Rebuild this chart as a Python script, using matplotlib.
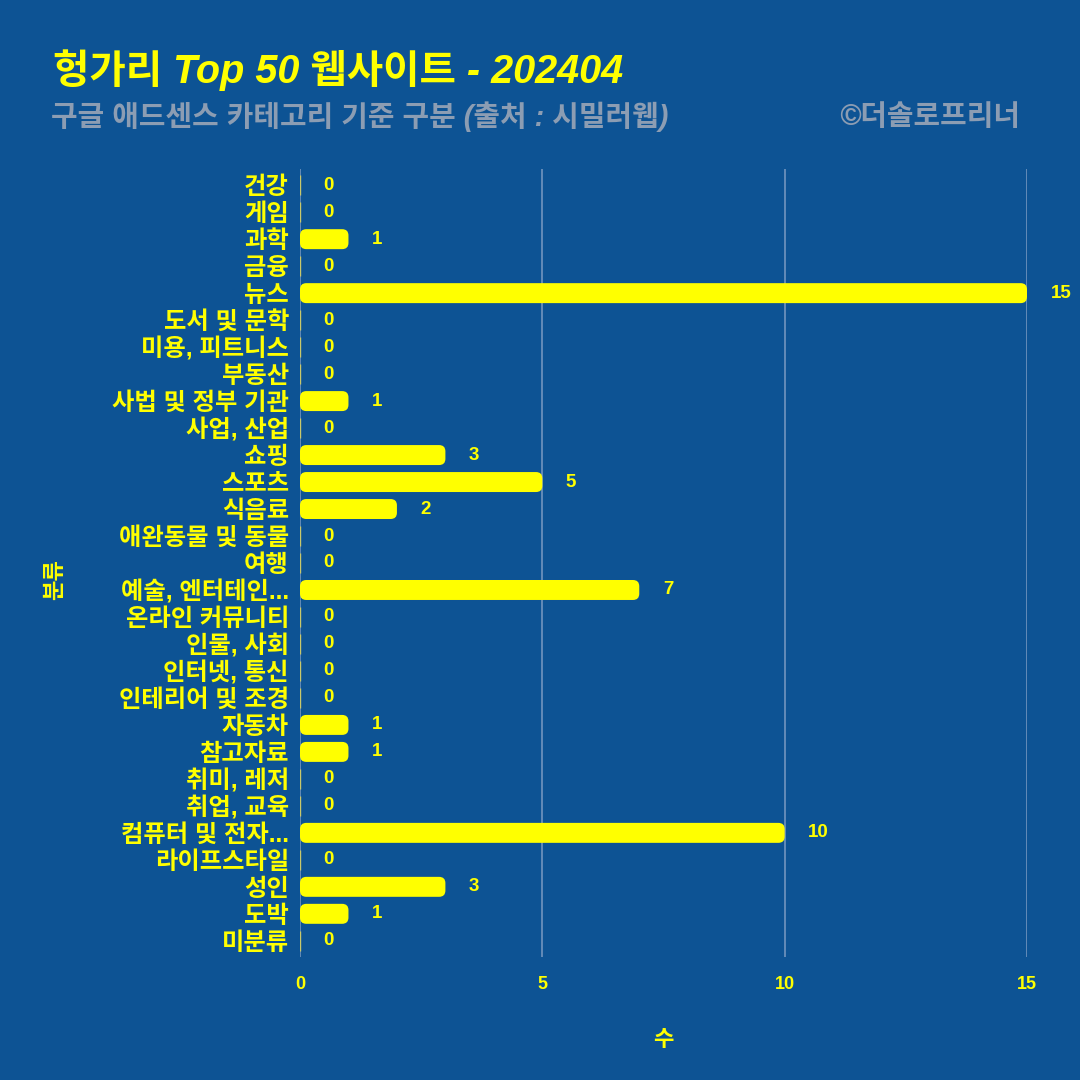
import matplotlib.pyplot as plt
from matplotlib.patches import FancyBboxPatch

plt.rcParams['font.family'] = ['Liberation Sans', 'Noto Sans CJK KR', 'DejaVu Sans']

categories = ['건강', '게임', '과학', '금융', '뉴스', '도서 및 문학', '미용, 피트니스', '부동산',
              '사법 및 정부 기관', '사업, 산업', '쇼핑', '스포츠', '식음료', '애완동물 및 동물',
              '여행', '예술, 엔터테인...', '온라인 커뮤니티', '인물, 사회', '인터넷, 통신',
              '인테리어 및 조경', '자동차', '참고자료', '취미, 레저', '취업, 교육',
              '컴퓨터 및 전자...', '라이프스타일', '성인', '도박', '미분류']
counts = [0, 0, 1, 0, 15, 0, 0, 0, 1, 0, 3, 5, 2, 0, 0, 7, 0, 0, 0, 0, 1, 1, 0, 0, 10, 0, 3, 1, 0]
xticks = [0, 5, 10, 15]

bg = '#0d5394'
yellow = '#ffff00'
grey = '#8c9db3'

fig = plt.figure(figsize=(10.8, 10.8), dpi=100, facecolor=bg)
ax = fig.add_axes([300 / 1080, 1 - 957 / 1080, 727 / 1080, 788 / 1080])
ax.set_facecolor(bg)

ypos = list(range(len(categories)))
bars = ax.barh(ypos, counts, height=0.74, color=yellow, edgecolor='#c8c86a', linewidth=1,
               zorder=3)
# rounded bar ends: swap each rectangle for a rounded box of the same extent
aspect = (727 / 15) / (788 / 29.2)
for b in bars:
    if b.get_width() > 0:
        x0, y0 = b.get_x(), b.get_y()
        w, h = b.get_width(), b.get_height()
        rb = FancyBboxPatch((x0, y0), w, h, boxstyle='round,pad=0,rounding_size=0.13',
                            mutation_aspect=aspect, facecolor=yellow, edgecolor='none',
                            zorder=3)
        ax.add_patch(rb)
        b.set_visible(False)

for y, v in zip(ypos, counts):
    ax.annotate(str(v), (v, y), xytext=(17, 0), textcoords='offset points',
                ha='left', va='center', color=yellow, fontsize=13.5, fontweight='bold',
                annotation_clip=False)

ax.set_ylim(len(categories) - 0.4, -0.6)
ax.set_xlim(0, 15)
ax.set_yticks(ypos)
ax.set_yticklabels(categories, color=yellow, fontsize=17.5, fontweight='heavy')
ax.set_xticks(xticks)
ax.set_xticklabels([str(t) for t in xticks], color=yellow, fontsize=13, fontweight='bold')
ax.tick_params(axis='both', length=0)
ax.tick_params(axis='x', pad=14)
ax.tick_params(axis='y', pad=8)
ax.grid(axis='x', color='#6a8fbb', linewidth=1.3, zorder=0)
for s in ax.spines.values():
    s.set_visible(False)

ax.set_xlabel('수', color=yellow, fontsize=16, fontweight='bold', labelpad=26)
fig.text(56 / 1080, 1 - 580 / 1080, '분류', color=yellow, fontsize=16, fontweight='bold',
         rotation=90, ha='center', va='center')

fig.text(53 / 1080, 1 - 70 / 1080, '헝가리 Top 50 웹사이트 - 202404', color=yellow,
         fontsize=28.5, fontweight='bold', style='italic', ha='left', va='center')
fig.text(51 / 1080, 1 - 117 / 1080, '구글 애드센스 카테고리 기준 구분 (출처 : 시밀러웹)', color=grey,
         fontsize=20.8, fontweight='bold', style='italic', ha='left', va='center')
fig.text(1020 / 1080, 1 - 117 / 1080, '©더솔로프리너', color=grey,
         fontsize=20.8, fontweight='bold', style='italic', ha='right', va='center')

fig.savefig('out.png', dpi=100, facecolor=bg)
